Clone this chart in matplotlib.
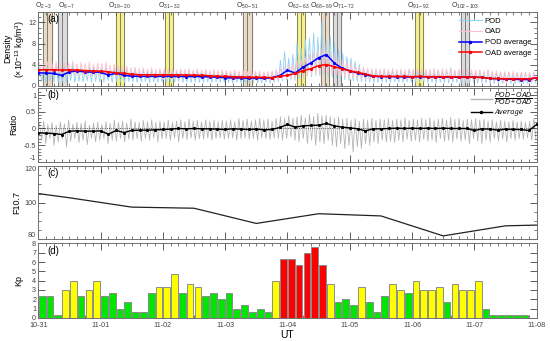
import numpy as np
import matplotlib
matplotlib.use("Agg")
from matplotlib import pyplot as plt
from matplotlib.lines import Line2D
from matplotlib.ticker import MultipleLocator

plt.rcParams['font.family'] = ['Liberation Sans', 'DejaVu Sans']
plt.rcParams['mathtext.fontset'] = 'custom'
plt.rcParams['mathtext.rm'] = 'Liberation Sans'
plt.rcParams['mathtext.it'] = 'Liberation Sans:italic'

# ---- data (time in days since 10-31 00:00 UT) ----
day_labels = ['10-31', '11-01', '11-02', '11-03', '11-04', '11-05', '11-06', '11-07', '11-08']

# per-orbit extremes of the raw density (x1e-13 kg/m3)
pod_hi = [3.4, 3.0, 3.6, 3.2, 3.8, 3.1, 3.5, 3.3, 3.9, 3.2, 3.6, 3.0, 3.4, 3.7, 3.1,
          3.3, 3.6, 2.9, 3.4, 3.1, 2.8, 3.2, 2.7, 3.0, 2.6, 2.9, 2.7, 2.8, 2.6, 2.9,
          2.7, 2.5, 2.8, 2.6, 2.9, 2.5, 2.7, 2.6, 2.8, 2.4, 2.6, 2.5, 2.7, 2.4, 2.6,
          2.5, 2.3, 2.6, 2.4, 2.2, 2.5, 2.3, 2.4, 2.2, 2.5, 2.3, 2.6, 3.0, 4.8, 6.5,
          5.2, 6.0, 8.2, 7.0, 8.7, 9.0, 10.0, 9.2, 12.2, 8.5, 9.4, 8.0, 7.0, 6.2, 5.5,
          5.2, 4.6, 4.0, 3.5, 3.3, 3.0, 2.9, 2.8, 3.1, 2.7, 2.9, 2.6, 2.8, 2.7, 3.0,
          2.8, 2.6, 2.9, 2.7, 2.8, 2.6, 3.0, 2.7, 2.9, 3.4, 2.7, 2.8, 2.6, 2.9, 2.7,
          2.6, 2.8, 2.5, 3.0, 2.6, 2.4, 2.6, 2.3, 2.5, 2.2, 2.4, 2.3, 2.5, 2.2, 2.6]
pod_lo = [0.8, 0.6, 0.9, 0.7, 0.6, 0.8, 0.7, 1.0, 0.6, 0.8, 0.7, 0.9, 0.6, 0.8, 0.7,
          0.7, 0.9, 0.6, 0.8, 0.7, 0.6, 0.8, 0.7, 0.6, 0.7, 0.8, 0.6, 0.7, 0.6, 0.7,
          0.6, 0.7, 0.6, 0.8, 0.6, 0.7, 0.6, 0.7, 0.6, 0.6, 0.7, 0.6, 0.7, 0.6, 0.6,
          0.6, 0.5, 0.6, 0.5, 0.6, 0.5, 0.6, 0.5, 0.5, 0.6, 0.5, 0.6, 0.7, 0.9, 1.1,
          1.2, 1.0, 1.4, 1.5, 1.8, 1.7, 2.0, 1.9, 2.2, 1.8, 1.6, 1.5, 1.3, 1.1, 1.0,
          0.9, 0.8, 0.8, 0.7, 0.7, 0.6, 0.6, 0.7, 0.6, 0.6, 0.7, 0.6, 0.6, 0.7, 0.6,
          0.6, 0.6, 0.7, 0.6, 0.6, 0.5, 0.6, 0.6, 0.5, 0.6, 0.6, 0.5, 0.6, 0.5, 0.6,
          0.5, 0.6, 0.5, 0.5, 0.4, 0.5, 0.4, 0.5, 0.4, 0.4, 0.5, 0.4, 0.4, 0.5, 0.4]
oad_hi = [4.4, 4.1, 4.6, 4.2, 4.5, 4.0, 4.4, 4.3, 4.7, 4.1, 4.4, 4.2, 4.5, 4.0, 4.3,
          4.2, 4.4, 3.9, 4.1, 3.8, 3.6, 3.7, 3.4, 3.5, 3.3, 3.4, 3.2, 3.4, 3.1, 3.3,
          3.2, 3.1, 3.3, 3.0, 3.2, 3.1, 3.3, 3.0, 3.2, 3.0, 3.1, 2.9, 3.1, 2.9, 3.0,
          2.9, 2.8, 3.0, 2.8, 2.9, 2.7, 2.8, 2.7, 2.8, 2.6, 2.7, 2.8, 3.0, 3.3, 3.6,
          3.9, 4.2, 4.7, 5.0, 5.5, 5.9, 6.3, 6.6, 7.0, 6.6, 6.2, 5.7, 5.2, 4.8, 4.4,
          4.1, 3.8, 3.6, 3.4, 3.3, 3.2, 3.3, 3.1, 3.2, 3.1, 3.3, 3.1, 3.2, 3.0, 3.2,
          3.1, 3.3, 3.0, 3.2, 3.1, 3.3, 3.0, 3.2, 3.1, 3.2, 3.0, 3.1, 3.0, 3.2, 3.0,
          2.9, 3.0, 2.8, 2.9, 2.7, 2.8, 2.6, 2.7, 2.6, 2.7, 2.5, 2.6, 2.5, 2.6, 2.5]
oad_lo = [2.0, 2.1, 1.9, 2.0, 2.1, 1.9, 2.0, 2.0, 1.9, 2.0, 1.9, 2.0, 1.8, 1.9, 1.8,
          1.8, 1.7, 1.8, 1.6, 1.7, 1.5, 1.6, 1.5, 1.5, 1.4, 1.5, 1.4, 1.4, 1.4, 1.3,
          1.4, 1.3, 1.4, 1.3, 1.3, 1.3, 1.2, 1.3, 1.2, 1.2, 1.3, 1.2, 1.2, 1.1, 1.2,
          1.1, 1.1, 1.0, 1.1, 1.0, 1.0, 1.0, 1.0, 0.9, 1.0, 0.9, 1.0, 1.1, 1.2, 1.3,
          1.4, 1.5, 1.6, 1.8, 1.9, 2.1, 2.2, 2.4, 2.5, 2.3, 2.1, 1.9, 1.7, 1.6, 1.5,
          1.4, 1.3, 1.2, 1.2, 1.1, 1.1, 1.1, 1.1, 1.1, 1.0, 1.1, 1.0, 1.1, 1.0, 1.1,
          1.0, 1.1, 1.0, 1.0, 1.0, 1.1, 1.0, 1.0, 1.0, 1.0, 1.0, 1.0, 0.9, 1.0, 0.9,
          0.9, 0.9, 0.9, 0.8, 0.9, 0.8, 0.8, 0.8, 0.8, 0.8, 0.8, 0.7, 0.8, 0.8, 0.8]

# per-orbit extremes of (POD-OAD)/(POD+OAD)
ratio_hi = [0.15, 0.22, 0.12, 0.18, 0.10, 0.20, 0.14, 0.25, 0.12, 0.18, 0.15, 0.22, 0.10, 0.16, 0.20,
            0.12, 0.20, 0.15, 0.25, 0.18, 0.22, 0.16, 0.28, 0.20, 0.18, 0.24, 0.20, 0.26, 0.18, 0.22,
            0.20, 0.25, 0.18, 0.22, 0.26, 0.20, 0.28, 0.22, 0.24, 0.20, 0.26, 0.22, 0.25, 0.20, 0.24,
            0.22, 0.26, 0.20, 0.30, 0.24, 0.28, 0.22, 0.26, 0.30, 0.25, 0.28, 0.22, 0.30, 0.35, 0.30,
            0.38, 0.30, 0.35, 0.40, 0.32, 0.42, 0.36, 0.45, 0.38, 0.40, 0.35, 0.30, 0.34, 0.28, 0.30,
            0.25, 0.30, 0.22, 0.28, 0.25, 0.30, 0.24, 0.28, 0.26, 0.30, 0.24, 0.28, 0.26, 0.32, 0.25,
            0.28, 0.25, 0.30, 0.26, 0.32, 0.24, 0.28, 0.30, 0.25, 0.33, 0.27, 0.30, 0.24, 0.28, 0.26,
            0.30, 0.25, 0.28, 0.22, 0.26, 0.20, 0.25, 0.22, 0.20, 0.24, 0.20, 0.22, 0.18, 0.20, 0.30]
ratio_lo = [-0.35, -0.45, -0.30, -0.50, -0.40, -0.32, -0.55, -0.38, -0.30, -0.42, -0.35, -0.48, -0.30, -0.40, -0.35,
            -0.30, -0.45, -0.35, -0.38, -0.30, -0.40, -0.32, -0.35, -0.30, -0.38, -0.30, -0.35, -0.28, -0.40, -0.30,
            -0.30, -0.35, -0.28, -0.40, -0.30, -0.33, -0.28, -0.35, -0.30, -0.32, -0.28, -0.35, -0.30, -0.28, -0.32,
            -0.30, -0.28, -0.35, -0.30, -0.28, -0.32, -0.30, -0.35, -0.28, -0.30, -0.33, -0.28, -0.30, -0.35, -0.30,
            -0.25, -0.35, -0.40, -0.30, -0.45, -0.35, -0.50, -0.40, -0.45, -0.35, -0.50, -0.55, -0.45, -0.60, -0.50,
            -0.70, -0.55, -0.60, -0.45, -0.50, -0.40, -0.45, -0.35, -0.40, -0.38, -0.42, -0.35, -0.40, -0.32, -0.38,
            -0.35, -0.40, -0.32, -0.38, -0.35, -0.42, -0.30, -0.38, -0.35, -0.40, -0.32, -0.38, -0.35, -0.45, -0.30,
            -0.38, -0.45, -0.35, -0.40, -0.30, -0.38, -0.32, -0.40, -0.30, -0.35, -0.30, -0.32, -0.28, -0.35, -0.30]

# 3-hourly averages
pod_avg = [2.4, 2.4, 2.3, 1.95, 2.6, 2.8, 2.6, 2.55,
           2.55, 2.0, 2.35, 1.95, 1.8, 1.75, 1.75, 1.75,
           1.75, 1.75, 1.75, 1.7, 1.75, 1.7, 1.65, 1.6,
           1.5, 1.45, 1.45, 1.4, 1.45, 1.4, 1.5, 1.9,
           2.9, 2.4, 3.5, 4.3, 5.3, 5.9, 4.3, 3.3,
           2.8, 2.4, 2.05, 1.75, 1.7, 1.7, 1.7, 1.65,
           1.65, 1.7, 1.65, 1.65, 1.6, 1.65, 1.6, 1.6,
           1.6, 1.55, 1.35, 1.3, 1.25, 1.2, 1.15, 1.15,
           1.5]
oad_avg = [3.0, 3.0, 3.0, 2.95, 3.0, 2.95, 2.85, 2.8,
           2.75, 2.6, 2.45, 2.35, 2.15, 2.05, 2.05, 2.05,
           2.05, 2.05, 2.05, 2.0, 2.0, 1.95, 1.85, 1.8,
           1.75, 1.7, 1.65, 1.6, 1.6, 1.55, 1.5, 1.75,
           1.95, 2.3, 2.85, 3.2, 3.8, 4.0, 3.6, 3.2,
           2.8, 2.5, 2.2, 1.85, 1.75, 1.75, 1.75, 1.75,
           1.7, 1.75, 1.7, 1.7, 1.7, 1.7, 1.65, 1.65,
           1.6, 1.55, 1.35, 1.35, 1.3, 1.3, 1.3, 1.3,
           1.5]
ratio_avg = [-0.13, -0.14, -0.15, -0.18, -0.08, -0.07, -0.08, -0.08,
             -0.07, -0.17, -0.06, -0.12, -0.06, -0.05, -0.05, -0.04,
             -0.03, -0.02, 0.0, -0.01, 0.0, -0.01, -0.01, -0.02,
             -0.03, -0.01, -0.02, -0.03, -0.02, -0.04, -0.03, 0.03,
             0.12, 0.04, 0.08, 0.09, 0.10, 0.15, 0.08, 0.04,
             0.02, -0.01, -0.07, -0.01, -0.01, 0.0, 0.01, 0.0,
             0.01, 0.0, 0.01, 0.0, 0.01, 0.0, 0.0, 0.0,
             -0.06, -0.01, -0.02, -0.05, -0.02, -0.03, -0.03, -0.06,
             0.12]

f107_t = [0.0, 0.5, 1.5, 2.5, 3.5, 4.5, 5.5, 6.5, 7.5, 8.0]
f107 = [105.0, 102.7, 97.6, 97.0, 88.7, 94.0, 92.8, 81.9, 87.4, 87.8]

kp = [2.33, 2.33, 0.33, 3.0, 4.0, 2.33, 3.0, 4.0,
      2.33, 2.67, 1.0, 1.67, 0.67, 0.67, 2.67, 3.33,
      3.33, 4.67, 2.67, 3.67, 3.33, 2.33, 2.67, 2.0,
      2.67, 1.0, 1.33, 0.67, 1.0, 0.67, 4.0, 6.33,
      6.33, 5.67, 7.0, 7.67, 5.67, 3.67, 1.67, 2.0,
      1.33, 3.33, 1.67, 0.67, 2.33, 3.67, 3.0, 2.67,
      4.0, 3.0, 3.0, 3.33, 1.67, 3.67, 3.0, 3.0,
      4.0, 1.0, 0.33, 0.33, 0.33, 0.33, 0.33, np.nan]

# highlighted orbit pairs
band_start = [0.08, 0.32, 1.24, 2.03, 3.29, 4.15, 4.54, 4.73, 6.04, 6.78]
band_names = ['2-3', '6-7', '19-20', '31-32', '50-51', '62-63', '68-69', '71-72', '91-92', '102-103']
band_colors = ['#e8dac5', '#dcdcdc', '#f5f08c', '#f5f08c', '#e8dac5',
               '#f5f08c', '#e8dac5', '#dcdcdc', '#f5f08c', '#dcdcdc']
label_shift = [-0.06, 0.07, 0, 0, 0, -0.04, -0.06, 0.1, 0, 0]
orbit = 0.067

# ---- time axes ----
t_orb = np.arange(len(pod_hi)) / 15.0 + 0.02
t_half = t_orb + 1 / 30.0
t_zig = np.ravel(np.column_stack([t_orb, t_half]))
t_avg = np.arange(len(pod_avg)) * 0.125
t_kp = np.arange(len(kp)) * 0.125


def zigzag(hi, lo):
    return np.ravel(np.column_stack([hi, lo]))


fig = plt.figure(figsize=(5.5, 3.41), dpi=100)
W = 0.9062
L = 0.0696
ax_a = fig.add_axes([L, 0.749, W, 0.216])
ax_b = fig.add_axes([L, 0.525, W, 0.218])
ax_c = fig.add_axes([L, 0.298, W, 0.215])
ax_d = fig.add_axes([L, 0.068, W, 0.218])

spine_col = '#707070'
for ax in (ax_a, ax_b, ax_c, ax_d):
    ax.set_xlim(0, 8)
    ax.xaxis.set_major_locator(MultipleLocator(1))
    ax.xaxis.set_minor_locator(MultipleLocator(0.125))
    ax.tick_params(which='both', direction='in', top=True, right=True,
                   labelsize=5.2, colors='#444444', pad=1.5)
    ax.tick_params(which='major', length=5, width=0.6)
    ax.tick_params(which='minor', length=2.5, width=0.5)
    for s in ax.spines.values():
        s.set_color(spine_col)
        s.set_linewidth(0.7)
    if ax is not ax_d:
        ax.set_xticklabels([])

# (a) density
for s, n, c, dx in zip(band_start, band_names, band_colors, label_shift):
    ax_a.axvspan(s, s + orbit, color=c, zorder=0)
    ax_a.axvspan(s + orbit, s + 2 * orbit, color=c, zorder=0)
    for xv in (s, s + orbit, s + 2 * orbit):
        ax_a.axvline(xv, color='#555555', lw=0.5, zorder=0.5)
    ax_a.text(s + orbit + dx, 14.15, 'O$_{%s}$' % n, ha='center', va='bottom',
              fontsize=5, color='#333333')
ax_a.plot(t_zig, zigzag(pod_hi, pod_lo), color='#8fd0f2', lw=0.6, zorder=1)
ax_a.plot(t_zig, zigzag(oad_hi, oad_lo), color='#ffc0cb', lw=0.6, zorder=1)
ax_a.plot(t_avg, pod_avg, color='#0000ff', lw=1.1, marker='.', ms=2.5, zorder=3)
ax_a.plot(t_avg, oad_avg, color='#ff0000', lw=1.1, marker='.', ms=2.5, zorder=3)
ax_a.set_ylim(0, 14)
ax_a.yaxis.set_major_locator(MultipleLocator(4))
ax_a.yaxis.set_minor_locator(MultipleLocator(1))
ax_a.set_ylabel('Density\n(×10$^{-13}$ kg/m$^3$)', fontsize=6.3, labelpad=1, linespacing=1.05)
ax_a.text(0.018, 0.97, '(a)', transform=ax_a.transAxes, fontsize=7, va='top')
h_a = [Line2D([], [], color='#8fd0f2', lw=0.8),
       Line2D([], [], color='#ffc0cb', lw=0.8),
       Line2D([], [], color='#0000ff', lw=1.1, marker='.', ms=3),
       Line2D([], [], color='#ff0000', lw=1.1, marker='.', ms=3)]
ax_a.legend(h_a, ['POD', 'OAD', 'POD average', 'OAD average'], loc='upper right',
            frameon=False, fontsize=5.5, handlelength=3, labelspacing=0.45,
            borderaxespad=0.3, handletextpad=0.4)

# (b) ratio
ax_b.plot(t_zig, zigzag(ratio_hi, ratio_lo), color='#b4b4b4', lw=0.6, zorder=1)
ax_b.axhline(0, color='#333333', lw=0.6, ls=':', zorder=2)
ax_b.plot(t_avg, ratio_avg, color='black', lw=1.0, marker='.', ms=2.5, zorder=3)
ax_b.set_ylim(-1, 1.22)
ax_b.yaxis.set_minor_locator(MultipleLocator(0.1))
ax_b.set_yticks([-1, -0.5, 0, 0.5, 1])
ax_b.set_yticklabels(['-1', '-0.5', '0', '0.5', '1'])
ax_b.set_ylabel('Ratio', fontsize=6.5, labelpad=4)
ax_b.text(0.018, 0.97, '(b)', transform=ax_b.transAxes, fontsize=7, va='top')
h_b = [Line2D([], [], color='#b4b4b4', lw=1.0),
       Line2D([], [], color='black', lw=1.0, marker='.', ms=3)]
ax_b.legend(h_b, [r'$\dfrac{POD-OAD}{POD+OAD}$', 'Average'], loc='upper right',
            frameon=False, prop={'family': 'DejaVu Serif', 'style': 'italic', 'size': 5},
            handlelength=3, labelspacing=0.1, borderaxespad=0.1, handletextpad=0.4)

# (c) F10.7
ax_c.plot(f107_t, f107, color='#222222', lw=0.9)
ax_c.set_ylim(80, 120)
ax_c.set_yticks([80, 100, 120])
ax_c.yaxis.set_minor_locator(MultipleLocator(5))
ax_c.set_ylabel('F10.7', fontsize=6.5, labelpad=2)
ax_c.text(0.018, 0.97, '(c)', transform=ax_c.transAxes, fontsize=7, va='top')
lab = ax_c.get_yticklabels()
lab[0].set_va('bottom')
lab[-1].set_va('top')

# (d) Kp
kp_col = ['#ff0000' if k >= 5 else '#ffff00' if k >= 3 else '#00e600' for k in kp]
ax_d.bar(t_kp + 0.008, kp, width=0.108, align='edge', color=kp_col,
         edgecolor='#8c8c8c', linewidth=0.7, zorder=2)
ax_d.set_ylim(0, 8)
ax_d.yaxis.set_major_locator(MultipleLocator(1))
ax_d.set_ylabel('Kp', fontsize=6.5, labelpad=6)
ax_d.text(0.018, 0.97, '(d)', transform=ax_d.transAxes, fontsize=7, va='top')
ax_d.set_xticks(range(len(day_labels)))
ax_d.set_xticklabels(day_labels)
ax_d.tick_params(axis='x', pad=3)
ax_d.set_xlabel('UT', fontsize=7.5, labelpad=1)
lab = ax_d.get_yticklabels()
lab[0].set_va('bottom')
lab[-1].set_va('top')

lab = ax_b.get_yticklabels()
lab[0].set_va('bottom')

fig.savefig('out.png', dpi=100)
